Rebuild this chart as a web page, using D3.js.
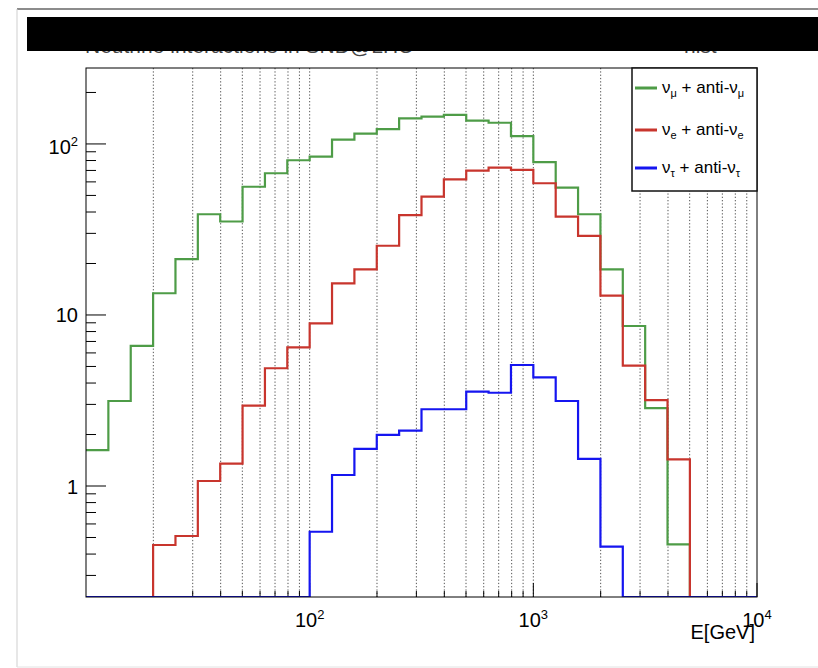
<!DOCTYPE html>
<meta charset="utf-8">
<style>
  body { margin: 0; background: #fff; }
  text { font-family: "Liberation Sans", Arial, Helvetica, sans-serif; }
</style>
<body>
<script src="https://d3js.org/d3.v7.min.js"></script>

<script>

// 30 bins, log10(E) from 1.0 to 4.0 in steps of 0.1
var binLow = [1.0, 1.1, 1.2, 1.3, 1.4, 1.5, 1.6, 1.7, 1.8, 1.9,
              2.0, 2.1, 2.2, 2.3, 2.4, 2.5, 2.6, 2.7, 2.8, 2.9,
              3.0, 3.1, 3.2, 3.3, 3.4, 3.5, 3.6, 3.7, 3.8, 3.9];
var binWidth = 0.1;

var numu = [1.62, 3.14, 6.59, 13.4, 21.2, 38.8, 35.2, 56.2, 67.4, 80.3,
            84.3, 106, 115, 122, 141, 144.5, 148, 137, 133, 111,
            78.2, 55.5, 38.8, 18.5, 8.62, 2.85, 0.456, 0, 0, 0];
var nue  = [0, 0, 0, 0.452, 0.51, 1.07, 1.35, 2.95, 4.88, 6.47,
            8.94, 15.3, 18.5, 25.4, 38.4, 49.2, 62.1, 69.8, 72.7, 70.5,
            58.9, 37.6, 29.0, 12.97, 5.05, 3.18, 1.43, 0, 0, 0];
var nutau = [0, 0, 0, 0, 0, 0, 0, 0, 0, 0,
             0.54, 1.16, 1.65, 1.99, 2.11, 2.81, 2.81, 3.56, 3.51, 5.1,
             4.32, 3.14, 1.44, 0.442, 0, 0, 0, 0, 0, 0];

var seriesNames = ["numu", "nue", "nutau"];
var seriesColors = ["#4e9c47", "#c8352d", "#1515f0"];
var seriesLabels = [["\u03bd", "\u03bc", " + anti-\u03bd", "\u03bc"],
                    ["\u03bd", "e", " + anti-\u03bd", "e"],
                    ["\u03bd", "\u03c4", " + anti-\u03bd", "\u03c4"]];

var xTickLabels = [[100, "10", "2"], [1000, "10", "3"], [10000, "10", "4"]];
var yTickLabels = [[1, "1", ""], [10, "10", ""], [100, "10", "2"]];

var width = 818, height = 668;
var fL = 86, fR = 757, fT = 68, fB = 597;
var yMin = 0.2244, yMax = 278;

var svg = d3.select("body").append("svg")
            .attr("width", width)
            .attr("height", height);

var x = d3.scaleLog().domain([10, 10000]).range([fL, fR]);
var y = d3.scaleLog().domain([yMin, yMax]).range([fB, fT]);

// canvas window edges
svg.append("line").attr("x1", 17).attr("x2", width).attr("y1", 9).attr("y2", 9)
   .attr("stroke", "#666").attr("stroke-width", 1.5);
svg.append("line").attr("x1", 17).attr("x2", 17).attr("y1", 9).attr("y2", 667)
   .attr("stroke", "#cfcfcf");
svg.append("line").attr("x1", 17).attr("x2", width).attr("y1", 667).attr("y2", 667)
   .attr("stroke", "#e2e2e2");

// title (mostly hidden under the black bar)
svg.append("text")
   .attr("x", 85).attr("y", 53)
   .attr("font-size", 21)
   .attr("fill", "#444")
   .text("Neutrino interactions in SND@LHC");
svg.append("text")
   .attr("x", 684).attr("y", 53)
   .attr("font-size", 21)
   .attr("fill", "#444")
   .text("hist");

svg.append("rect")
   .attr("x", 27).attr("y", 17)
   .attr("width", width - 27).attr("height", 34)
   .attr("fill", "#000");

// vertical dotted grid
var gridVals = [];
[10, 100, 1000].forEach(function(dec) {
  for (var m = 2; m <= 10; m++) gridVals.push(dec * m);
});
gridVals = gridVals.filter(function(v){ return v < 10000; });

svg.append("g").selectAll("line")
   .data(gridVals)
   .enter().append("line")
   .attr("x1", function(d){ return x(d); })
   .attr("x2", function(d){ return x(d); })
   .attr("y1", fT).attr("y2", fB)
   .attr("stroke", "#555")
   .attr("stroke-width", 1)
   .attr("stroke-dasharray", "1.3,2");

// x ticks
var xTicks = gridVals.concat([10000]);
svg.append("g").selectAll("line")
   .data(xTicks)
   .enter().append("line")
   .attr("x1", function(d){ return x(d); })
   .attr("x2", function(d){ return x(d); })
   .attr("y1", fB)
   .attr("y2", function(d){
      var major = Math.abs(Math.log10(d) - Math.round(Math.log10(d))) < 1e-9;
      return fB - (major ? 14 : 6);
   })
   .attr("stroke", "#000");

// y ticks
var yTicks = [];
[0.1, 1, 10, 100].forEach(function(dec) {
  for (var m = 1; m <= 9; m++) {
    var v = dec * m;
    if (v >= yMin && v <= yMax) yTicks.push(v);
  }
});
svg.append("g").selectAll("line")
   .data(yTicks)
   .enter().append("line")
   .attr("x1", fL)
   .attr("x2", function(d){
      var major = Math.abs(Math.log10(d) - Math.round(Math.log10(d))) < 1e-9;
      return fL + (major ? 20 : 10);
   })
   .attr("y1", function(d){ return y(d); })
   .attr("y2", function(d){ return y(d); })
   .attr("stroke", "#000");

// histograms
svg.append("clipPath").attr("id", "frameClip")
   .append("rect")
   .attr("x", fL).attr("y", fT)
   .attr("width", fR - fL).attr("height", fB - fT);

var line = d3.line()
   .x(function(d){ return x(d[0]); })
   .y(function(d){ return y(d[1]); });

var allSeries = [numu, nue, nutau];

function stepPoints(vals) {
  var pts = [];
  vals.forEach(function(v, i) {
    var c = v > yMin ? v : yMin;
    pts.push([Math.pow(10, binLow[i]), c]);
    pts.push([Math.pow(10, binLow[i] + binWidth), c]);
  });
  return pts;
}

svg.append("g")
   .attr("clip-path", "url(#frameClip)")
   .selectAll("path")
   .data(allSeries)
   .enter().append("path")
   .attr("d", function(d){ return line(stepPoints(d)); })
   .attr("fill", "none")
   .attr("stroke", function(d, i){ return seriesColors[i]; })
   .attr("stroke-width", 2.2);

// frame
svg.append("rect")
   .attr("x", fL).attr("y", fT)
   .attr("width", fR - fL).attr("height", fB - fT)
   .attr("fill", "none")
   .attr("stroke", "#000")
   .attr("stroke-width", 1);

// x tick labels
var xl = svg.append("g").selectAll("text")
   .data(xTickLabels)
   .enter().append("text")
   .attr("x", function(d){ return x(d[0]); })
   .attr("y", 627)
   .attr("text-anchor", "middle")
   .attr("font-size", 20)
   .attr("fill", "#000");
xl.append("tspan").text(function(d){ return d[1]; });
xl.append("tspan").attr("dy", -8).attr("font-size", 13).text(function(d){ return d[2]; });

// y tick labels
var yl = svg.append("g").selectAll("text")
   .data(yTickLabels)
   .enter().append("text")
   .attr("x", 78)
   .attr("y", function(d){ return y(d[0]) + (d[2] ? 10 : 7.5); })
   .attr("text-anchor", "end")
   .attr("font-size", 20)
   .attr("fill", "#000");
yl.append("tspan").text(function(d){ return d[1]; });
yl.append("tspan").attr("dy", -8).attr("font-size", 13).text(function(d){ return d[2]; });

// axis title
svg.append("text")
   .attr("x", 755).attr("y", 639)
   .attr("text-anchor", "end")
   .attr("font-size", 20)
   .text("E[GeV]");

// legend
var legX = 632, legY = fT, legW = fR - 632, legH = 123;
svg.append("rect")
   .attr("x", legX).attr("y", legY)
   .attr("width", legW).attr("height", legH)
   .attr("fill", "#fff")
   .attr("stroke", "#111")
   .attr("stroke-width", 1.5);

var rowY = [88, 130, 168];
var leg = svg.append("g").selectAll("g")
   .data(seriesNames)
   .enter().append("g")
   .attr("transform", function(d, i){ return "translate(0," + rowY[i] + ")"; });

leg.append("line")
   .attr("x1", 635).attr("x2", 657)
   .attr("y1", 0).attr("y2", 0)
   .attr("stroke", function(d, i){ return seriesColors[i]; })
   .attr("stroke-width", 3);

var lt = leg.append("text")
   .attr("x", 662).attr("y", 5)
   .attr("font-size", 17)
   .attr("fill", "#000");
lt.append("tspan").text(function(d, i){ return seriesLabels[i][0]; });
lt.append("tspan").attr("dy", 4).attr("font-size", 11).text(function(d, i){ return seriesLabels[i][1]; });
lt.append("tspan").attr("dy", -4).text(function(d, i){ return seriesLabels[i][2]; });
lt.append("tspan").attr("dy", 4).attr("font-size", 11).text(function(d, i){ return seriesLabels[i][3]; });

</script>
</body>
